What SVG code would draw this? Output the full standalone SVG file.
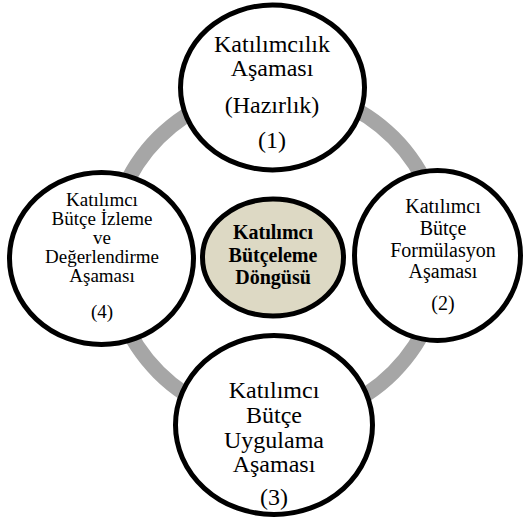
<svg xmlns="http://www.w3.org/2000/svg" width="524" height="523" viewBox="0 0 524 523">
<style>
.node{fill:#ffffff;stroke:#000000;stroke-width:5}
.hub{fill:#ddd9c4;stroke:#000000;stroke-width:5}
.ring{fill:none;stroke:#a6a6a6;stroke-width:15}
text{font-family:"Liberation Serif","Times New Roman",serif;fill:#000000;text-anchor:middle}
.t24{font-size:24px}
.t20{font-size:20px}
.t19{font-size:19px}
.hb{font-size:20px;font-weight:bold}
</style>
<rect width="524" height="523" fill="#ffffff"/>
<g id="connectors">
<circle class="ring" cx="276" cy="255" r="166"/>
</g>
<g id="node-1">
<ellipse class="node" cx="272.5" cy="87.5" rx="92" ry="82.5"/>
<text class="t24" x="272" y="52">Katılımcılık</text>
<text class="t24" x="272" y="76">Aşaması</text>
<text class="t24" x="272" y="113">(Hazırlık)</text>
<text class="t24" x="272" y="148">(1)</text>
</g>
<g id="node-4">
<ellipse class="node" cx="101.5" cy="258.5" rx="92" ry="86"/>
<text class="t19" x="102" y="206">Katılımcı</text>
<text class="t19" x="102" y="225">Bütçe İzleme</text>
<text class="t19" x="102" y="244">ve</text>
<text class="t19" x="102" y="263">Değerlendirme</text>
<text class="t19" x="102" y="282">Aşaması</text>
<text class="t19" x="102" y="318">(4)</text>
</g>
<g id="node-2">
<ellipse class="node" cx="437.5" cy="255.5" rx="83" ry="85"/>
<text class="t20" x="443" y="213">Katılımcı</text>
<text class="t20" x="443" y="235">Bütçe</text>
<text class="t20" x="443" y="257">Formülasyon</text>
<text class="t20" x="443" y="278">Aşaması</text>
<text class="t20" x="443" y="310">(2)</text>
</g>
<g id="node-3">
<ellipse class="node" cx="274" cy="425" rx="98.5" ry="89.5"/>
<text class="t24" x="274" y="398">Katılımcı</text>
<text class="t24" x="274" y="423">Bütçe</text>
<text class="t24" x="274" y="448">Uygulama</text>
<text class="t24" x="274" y="472">Aşaması</text>
<text class="t24" x="274" y="505">(3)</text>
</g>
<g id="hub">
<ellipse class="hub" cx="273" cy="257.5" rx="70.5" ry="58.5"/>
<text class="hb" x="273" y="239">Katılımcı</text>
<text class="hb" x="273" y="262">Bütçeleme</text>
<text class="hb" x="273" y="284">Döngüsü</text>
</g>
</svg>
